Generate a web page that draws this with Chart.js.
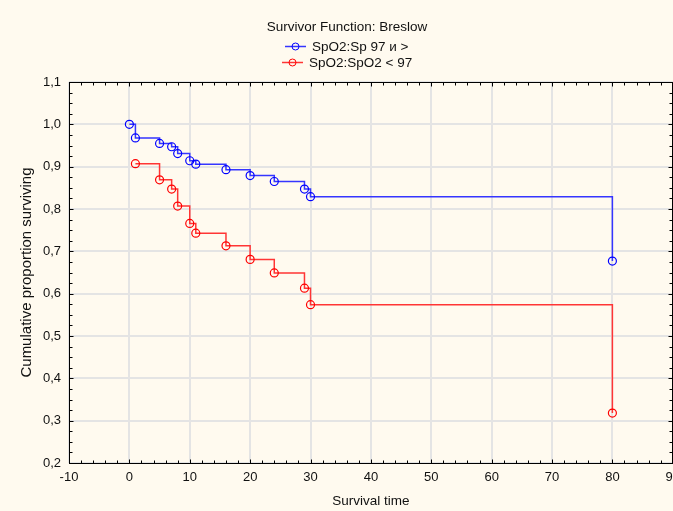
<!DOCTYPE html>
<html>
<head>
<meta charset="utf-8">
<script src="https://cdn.jsdelivr.net/npm/chart.js@4.4.1/dist/chart.umd.min.js"></script>
<style>
  html, body { margin: 0; padding: 0; background: #fffaef; overflow: hidden; }
  #wrap { position: relative; width: 673px; height: 511px; overflow: hidden; }
  canvas { display: block; }
</style>
</head>
<body>
<div id="wrap"><canvas id="c" width="687" height="511"></canvas></div>
<script>
// Kaplan–Meier style survivor estimates (Breslow), two SpO2 groups
const chartTitle = 'Survivor Function: Breslow';
const seriesNames = ['SpO2:Sp 97 и >', 'SpO2:SpO2 < 97'];
const seriesColors = ['#0000ff', '#ff0000'];
const lineColors = ['#3535ff', '#ff3535'];

const timeHigh = [0, 1, 5, 7, 8, 10, 11, 16, 20, 24, 29, 30, 80];
const survHigh = [1.0, 0.968, 0.955, 0.947, 0.931, 0.914, 0.906, 0.893, 0.879, 0.865, 0.847, 0.829, 0.677];

const timeLow = [1, 5, 7, 8, 10, 11, 16, 20, 24, 29, 30, 80];
const survLow = [0.907, 0.869, 0.847, 0.807, 0.766, 0.743, 0.713, 0.681, 0.649, 0.613, 0.574, 0.318];

const xAxisTitle = 'Survival time';
const yAxisTitle = 'Cumulative proportion surviving';
const xRange = [-10, 90];
const yRange = [0.2, 1.1];

const FONT = '"Liberation Sans", Arial, sans-serif';

function toPoints(xs, ys) { return xs.map((x, i) => ({ x: x, y: ys[i] })); }

// frame around the plot and small inward ticks on all four sides
const framePlugin = {
  id: 'frame',
  beforeDatasetsDraw(chart) {
    const { ctx, chartArea: a, scales: { x, y } } = chart;
    const L = Math.round(a.left) + 0.5, R = Math.round(a.right) - 0.5;
    const T = Math.round(a.top) + 0.5, B = Math.round(a.bottom) + 0.5;
    ctx.save();
    ctx.strokeStyle = '#000';
    ctx.lineWidth = 1;
    ctx.beginPath();
    for (let v = xRange[0]; v <= xRange[1] + 1e-9; v += 2) {
      const px = Math.round(x.getPixelForValue(v)) + 0.5;
      const len = (Math.abs(v % 10) < 1e-9) ? 4 : 3;
      ctx.moveTo(px, B); ctx.lineTo(px, B - len);
      ctx.moveTo(px, T); ctx.lineTo(px, T + len);
    }
    for (let k = 0; k <= 36; k++) {
      const v = yRange[0] + k * 0.025;
      const py = Math.round(y.getPixelForValue(v)) + 0.5;
      const len = (k % 4 === 0) ? 4 : 3;
      ctx.moveTo(L, py); ctx.lineTo(L + len, py);
      ctx.moveTo(R, py); ctx.lineTo(R - len, py);
    }
    ctx.stroke();
    ctx.strokeRect(L, T, R - L, B - T);
    ctx.restore();
  }
};

// heading and a stacked legend above the plot
const headerPlugin = {
  id: 'header',
  afterDraw(chart) {
    const { ctx } = chart;
    const cx = 347;
    ctx.save();
    ctx.fillStyle = '#111';
    ctx.font = '13.5px ' + FONT;
    ctx.textBaseline = 'middle';
    ctx.textAlign = 'center';
    ctx.fillText(chartTitle, cx, 27);
    const rowsY = [46, 62];
    chart.data.datasets.forEach((ds, i) => {
      ctx.font = '13.5px ' + FONT;
      const tw = ctx.measureText(ds.label).width;
      const sym = 21, gap = 6;
      const x0 = Math.round(cx - (sym + gap + tw) / 2);
      const yy = rowsY[i] + 0.5;
      ctx.strokeStyle = ds.borderColor;
      ctx.lineWidth = 1.5;
      ctx.beginPath();
      ctx.moveTo(x0, yy); ctx.lineTo(x0 + sym, yy);
      ctx.stroke();
      ctx.strokeStyle = ds.pointBorderColor;
      ctx.lineWidth = 1;
      ctx.beginPath();
      ctx.arc(x0 + sym / 2, yy, 3.5, 0, Math.PI * 2);
      ctx.stroke();
      ctx.textAlign = 'left';
      ctx.fillStyle = '#111';
      ctx.fillText(ds.label, x0 + sym + gap, rowsY[i] + 1);
    });
    ctx.restore();
  }
};

new Chart(document.getElementById('c'), {
  type: 'line',
  data: {
    datasets: [
      {
        label: seriesNames[0],
        data: toPoints(timeHigh, survHigh),
        borderColor: lineColors[0],
        backgroundColor: 'rgba(0,0,0,0)',
        pointBorderColor: seriesColors[0],
        pointBackgroundColor: 'rgba(0,0,0,0)',
        borderWidth: 1.5,
        pointRadius: 4,
        pointBorderWidth: 1.2,
        stepped: true,
        fill: false
      },
      {
        label: seriesNames[1],
        data: toPoints(timeLow, survLow),
        borderColor: lineColors[1],
        backgroundColor: 'rgba(0,0,0,0)',
        pointBorderColor: seriesColors[1],
        pointBackgroundColor: 'rgba(0,0,0,0)',
        borderWidth: 1.5,
        pointRadius: 4,
        pointBorderWidth: 1.2,
        stepped: true,
        fill: false
      }
    ]
  },
  options: {
    responsive: false,
    animation: false,
    devicePixelRatio: 1,
    layout: { padding: { top: 82, right: 0, bottom: 0, left: 0 } },
    plugins: {
      legend: { display: false },
      title: { display: false },
      tooltip: { enabled: false }
    },
    scales: {
      x: {
        type: 'linear',
        min: xRange[0], max: xRange[1],
        ticks: { stepSize: 10, color: '#111', padding: 7, font: { family: FONT, size: 13 } },
        grid: { color: '#e4e4e4', lineWidth: 2, drawTicks: false },
        border: { display: false },
        title: { display: true, text: xAxisTitle, color: '#111', padding: { top: 0, bottom: 2 }, font: { family: FONT, size: 13.5 } },
        afterFit(scale) { scale.height = 48; }
      },
      y: {
        min: yRange[0], max: yRange[1],
        ticks: {
          stepSize: 0.1, color: '#111', padding: 8, font: { family: FONT, size: 13 },
          callback: v => v.toFixed(1).replace('.', ',')
        },
        grid: { color: '#e4e4e4', lineWidth: 2, drawTicks: false },
        border: { display: false },
        title: { display: true, text: yAxisTitle, color: '#111', padding: { top: 18, bottom: 0 }, font: { family: FONT, size: 15 } },
        afterFit(scale) { scale.width = 69; }
      }
    }
  },
  plugins: [framePlugin, headerPlugin]
});
</script>
</body>
</html>
